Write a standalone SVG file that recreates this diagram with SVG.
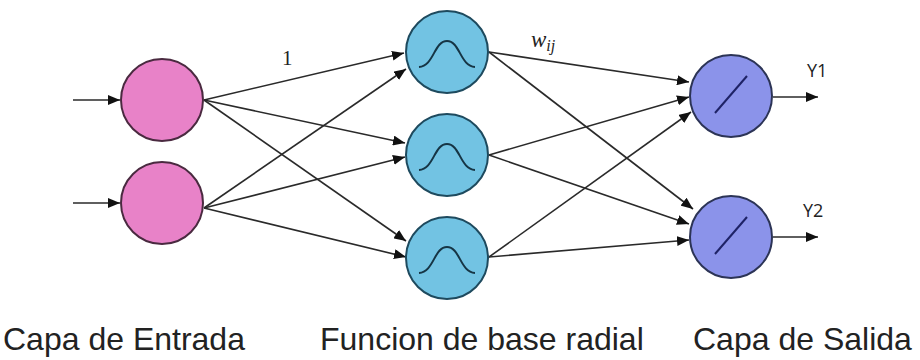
<svg xmlns="http://www.w3.org/2000/svg" width="920" height="360" viewBox="0 0 920 360">
<defs>
<marker id="ah" viewBox="0 0 12 10" refX="12" refY="5" markerWidth="12" markerHeight="10" markerUnits="userSpaceOnUse" orient="auto">
<path d="M0,0 L12,5 L0,10 z" fill="#111"/>
</marker>
<style>
.in{fill:#e882c8;stroke:#4a2a40;stroke-width:2}
.hid{fill:#72c3e3;stroke:#1e4a5e;stroke-width:2}
.out{fill:#8b93ea;stroke:#2c3456;stroke-width:2}
.bell{fill:none;stroke:#163545;stroke-width:2}
.lin{fill:none;stroke:#1e2266;stroke-width:2}
.edge{fill:none;stroke:#2a2a2a;stroke-width:1.6;marker-end:url(#ah)}
.lab{font-family:"Liberation Sans",Arial,sans-serif;font-size:32px;fill:#222}
.y{font-family:"Open Sans","Liberation Sans",sans-serif;font-size:18px;fill:#222}
</style>
</defs>
<rect width="920" height="360" fill="#fff"/>
<g id="connectors">
<line class="edge" x1="73" y1="100" x2="120" y2="100"/>
<line class="edge" x1="73" y1="203" x2="120" y2="203"/>
<line class="edge" x1="204" y1="100" x2="404" y2="53"/>
<line class="edge" x1="204" y1="100" x2="405" y2="143"/>
<line class="edge" x1="204" y1="100" x2="406" y2="241"/>
<line class="edge" x1="204" y1="208" x2="406" y2="69"/>
<line class="edge" x1="204" y1="208" x2="405" y2="157"/>
<line class="edge" x1="204" y1="208" x2="406" y2="257"/>
<line class="edge" x1="489" y1="52" x2="689" y2="82"/>
<line class="edge" x1="489" y1="52" x2="693" y2="209"/>
<line class="edge" x1="489" y1="155" x2="689" y2="97"/>
<line class="edge" x1="489" y1="155" x2="689" y2="224"/>
<line class="edge" x1="489" y1="257" x2="691" y2="112"/>
<line class="edge" x1="489" y1="257" x2="689" y2="240"/>
<line class="edge" x1="773" y1="97" x2="818" y2="97"/>
<line class="edge" x1="773" y1="237" x2="818" y2="237"/>
</g>
<g id="in1"><circle class="in" cx="162" cy="100" r="41"/></g>
<g id="in2"><circle class="in" cx="162" cy="203" r="41"/></g>
<g id="h1"><circle class="hid" cx="447" cy="52" r="41"/><path class="bell" d="M419,67 C434,66 434,41 447,41 C460,41 460,66 475,67"/></g>
<g id="h2"><circle class="hid" cx="447" cy="155" r="41"/><path class="bell" d="M419,170 C434,169 434,144 447,144 C460,144 460,169 475,170"/></g>
<g id="h3"><circle class="hid" cx="447" cy="258" r="41"/><path class="bell" d="M419,273 C434,272 434,247 447,247 C460,247 460,272 475,273"/></g>
<g id="o1"><circle class="out" cx="731" cy="96" r="41"/><line class="lin" x1="715" y1="113" x2="747" y2="76"/></g>
<g id="o2"><circle class="out" cx="731" cy="237" r="41"/><line class="lin" x1="715" y1="254" x2="747" y2="217"/></g>
<text x="282" y="65" font-family="'Liberation Serif',serif" font-size="21" fill="#222">1</text>
<text x="531" y="47" font-family="'Liberation Serif',serif" font-style="italic" font-size="23" fill="#222">w<tspan font-size="16" dy="4">ij</tspan></text>
<text class="y" x="807" y="77">Y1</text>
<text class="y" x="803" y="217">Y2</text>
<text class="lab" x="3" y="350">Capa de Entrada</text>
<text class="lab" x="320" y="350">Funcion de base radial</text>
<text class="lab" x="693" y="350">Capa de Salida</text>
</svg>
